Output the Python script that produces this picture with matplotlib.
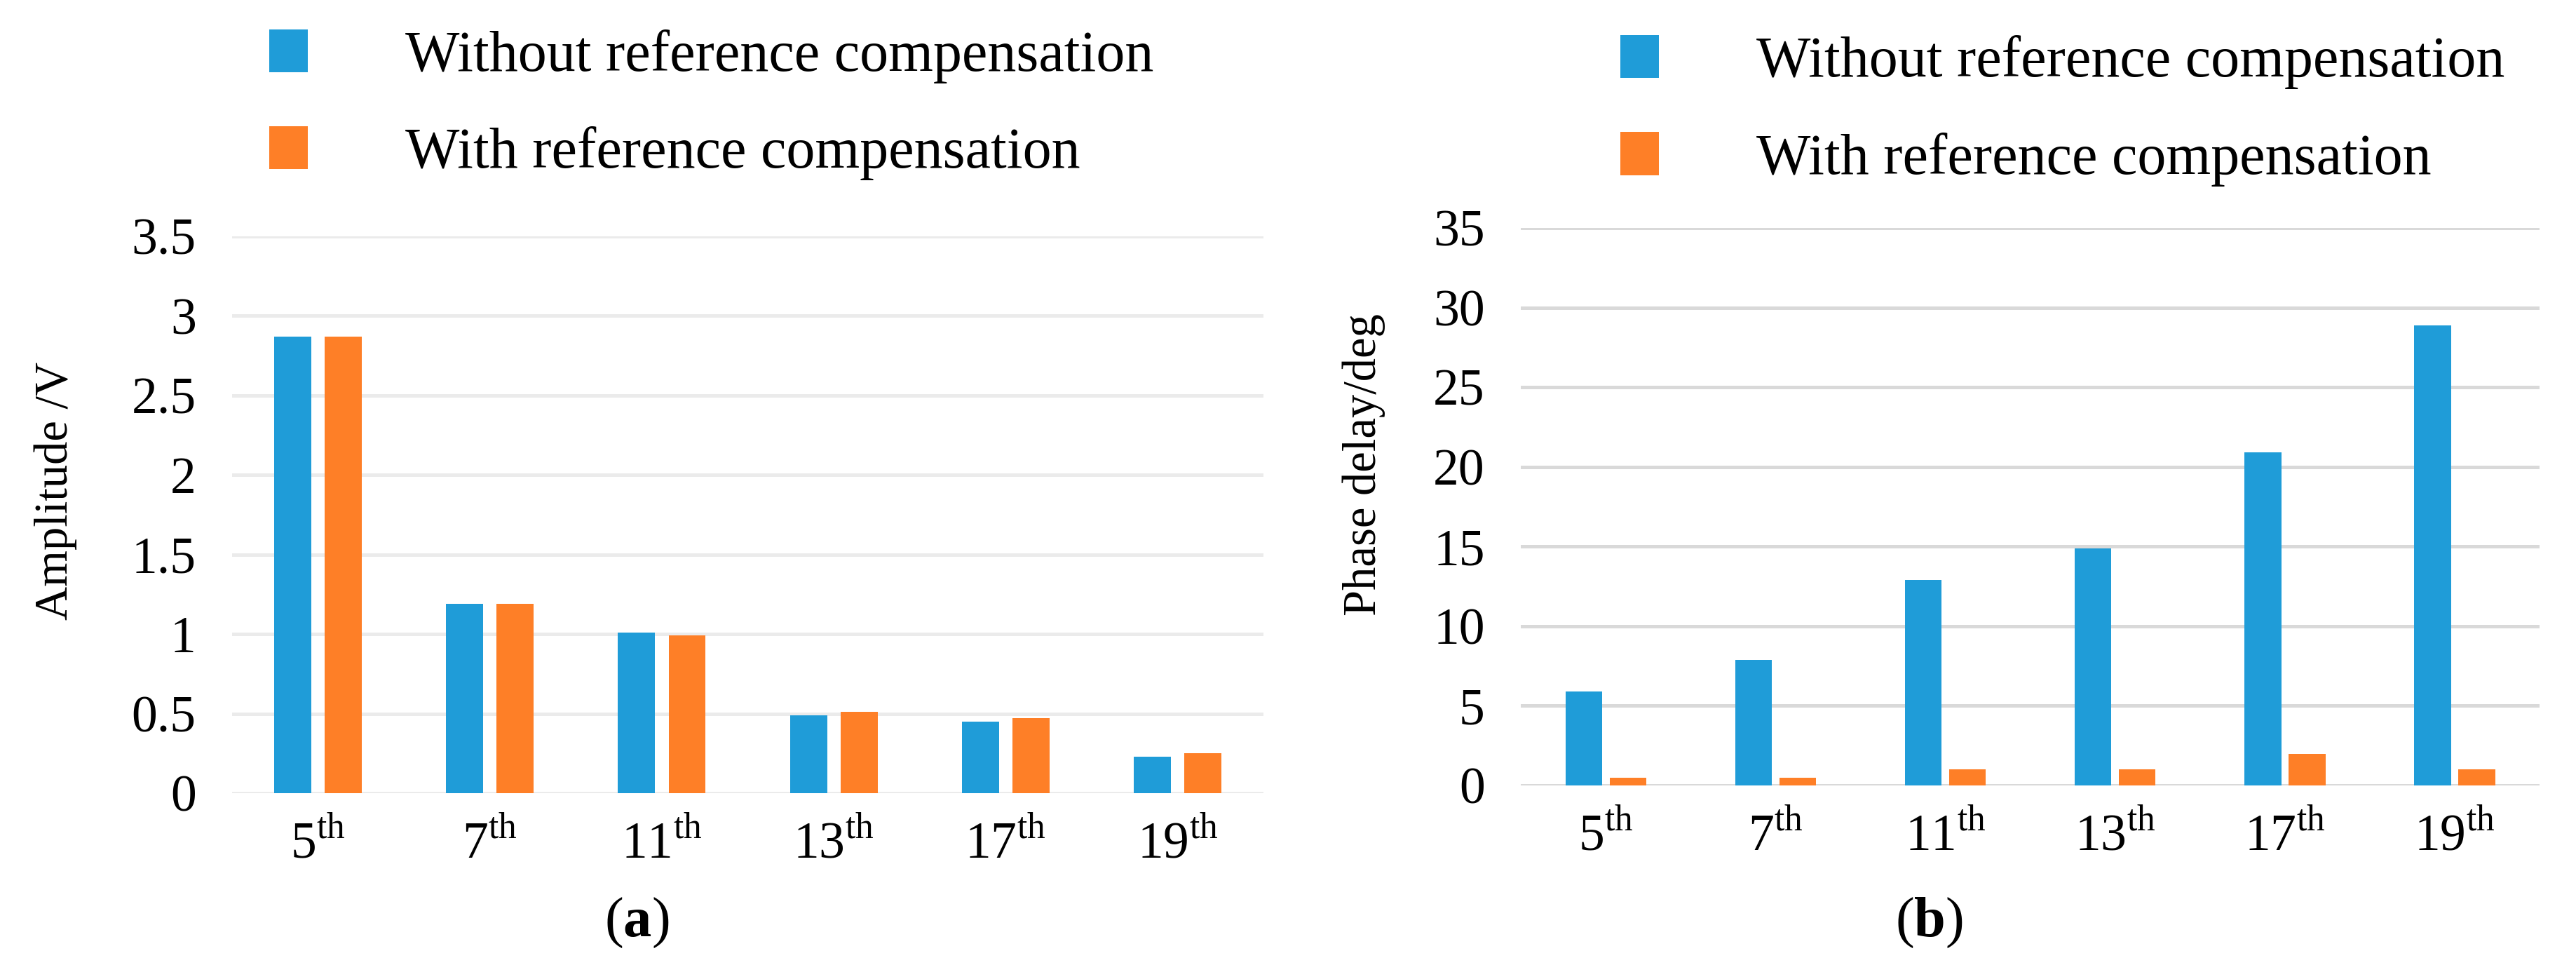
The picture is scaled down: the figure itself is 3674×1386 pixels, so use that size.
import matplotlib.pyplot as plt
import numpy as np

plt.rcParams['font.family'] = ['Liberation Serif', 'DejaVu Serif']
plt.rcParams['mathtext.fontset'] = 'custom'
plt.rcParams['mathtext.rm'] = 'Liberation Serif'
plt.rcParams['mathtext.bf'] = 'Liberation Serif:bold'

harmonics = [5, 7, 11, 13, 17, 19]
series_names = ["Without reference compensation", "With reference compensation"]

amp_without = [2.87, 1.19, 1.01, 0.49, 0.45, 0.23]
amp_with = [2.87, 1.19, 0.99, 0.51, 0.47, 0.25]

phase_without = [5.9, 7.9, 12.9, 14.9, 20.9, 28.9]
phase_with = [0.5, 0.5, 1.0, 1.0, 2.0, 1.0]

amp_ticks = [0, 0.5, 1, 1.5, 2, 2.5, 3, 3.5]
phase_ticks = [0, 5, 10, 15, 20, 25, 30, 35]

c_blue = '#1f9cd8'
c_orange = '#fe7f27'

xlabels = [f"{h}$^{{\\mathrm{{th}}}}$" for h in harmonics]
x = np.arange(len(harmonics))

fig = plt.figure(figsize=(36.74, 13.86), dpi=100)
ax1 = fig.add_axes([0.0901, 0.184, 0.4004, 0.5729])
ax2 = fig.add_axes([0.5904, 0.1919, 0.3955, 0.5736])

# ================= panel settings =================
panels = [
    (ax1, amp_without, amp_with, amp_ticks, "Amplitude /V", 0.147, '#ebebeb',
     (-0.171, 0.543), (0.1045, 0.970), "a", 908),
    (ax2, phase_without, phase_with, phase_ticks, "Phase delay/deg", 0.13, '#d9d9d9',
     (-0.154, 0.576), (0.629, 0.964), "b", 2751),
]

for ax, v1, v2, ticks, ylab, off, gcol, lab_xy, leg_xy, letter, lx in panels:
    b1 = ax.bar(x - off, v1, width=0.216, color=c_blue, label=series_names[0], zorder=2)
    b2 = ax.bar(x + off, v2, width=0.216, color=c_orange, label=series_names[1], zorder=2)

    ax.set_xlim(-0.5, len(harmonics) - 0.5)
    ax.set_ylim(ticks[0], ticks[-1])
    ax.set_yticks(ticks)
    ax.set_yticklabels([f"{t:g}" for t in ticks])
    ax.set_xticks(x)
    ax.set_xticklabels(xlabels)
    ax.yaxis.grid(True, color=gcol, linewidth=3.6)
    ax.set_axisbelow(True)
    for s in ax.spines.values():
        s.set_visible(False)
    ax.tick_params(axis='both', length=0, labelsize=53)
    ax.tick_params(axis='x', pad=28)
    ax.tick_params(axis='y', pad=37)

    ax.set_ylabel(ylab, fontsize=48)
    ax.yaxis.label.set_va('center')
    ax.yaxis.set_label_coords(*lab_xy)

    ax.legend(handles=[b1, b2], loc='upper left', bbox_to_anchor=leg_xy,
              bbox_transform=fig.transFigure, frameon=False, fontsize=59,
              borderpad=0, borderaxespad=0, handlelength=0.67, handleheight=0.77,
              handletextpad=1.7, labelspacing=0.75)

    fig.text(lx / 3674, 1 - 1316 / 1386, f"($\\mathbf{{{letter}}}$)", fontsize=58,
             ha='center', va='center')

plt.savefig("out.png", dpi=100)
